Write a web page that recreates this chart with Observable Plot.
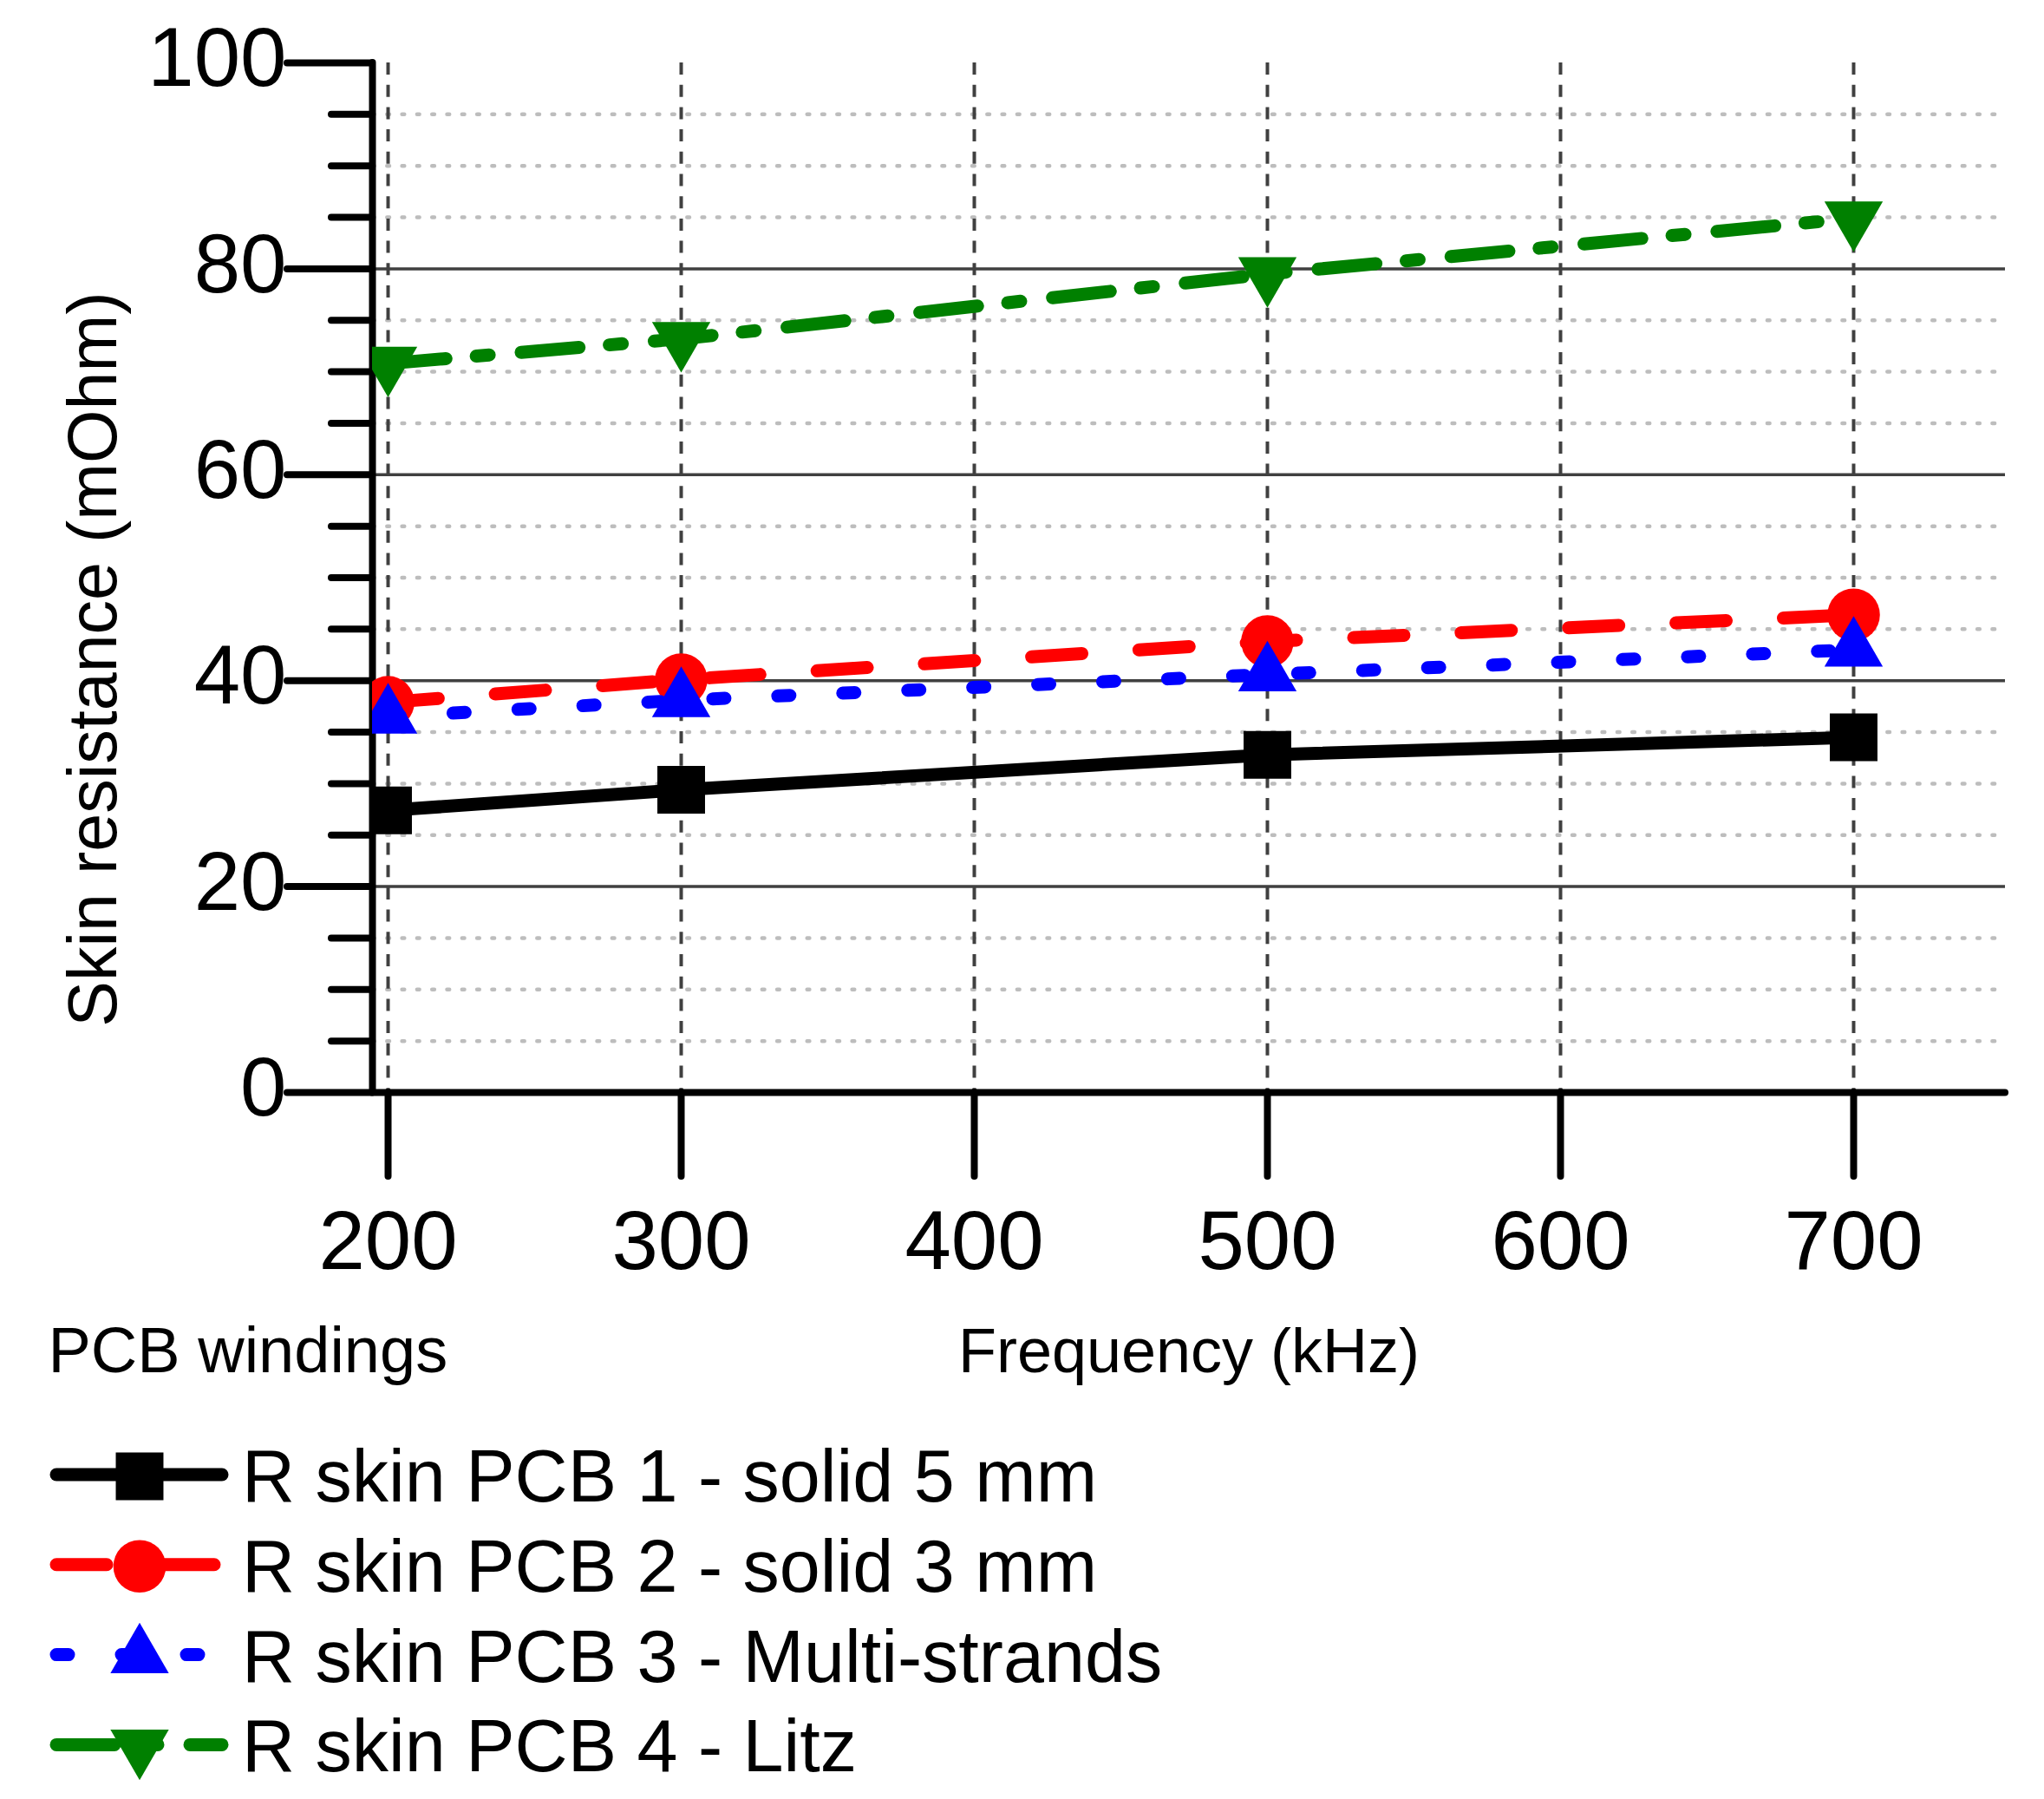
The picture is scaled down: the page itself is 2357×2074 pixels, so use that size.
<!DOCTYPE html>
<html>
<head>
<meta charset="utf-8">
<script src="https://cdn.jsdelivr.net/npm/d3@7"></script>
<script src="https://cdn.jsdelivr.net/npm/@observablehq/plot@0.6"></script>
<style>
html, body { margin: 0; padding: 0; background: #ffffff; }
#chart { width: 2357px; }
#chart svg { display: block; }
</style>
</head>
<body>
<div id="chart"></div>
<script>
// ---- data ----
const frequency = [200, 300, 500, 700];               // kHz
const pcb1 = [27.4, 29.4, 32.8, 34.5];                // R skin PCB 1 - solid 5 mm
const pcb2 = [37.9, 40.1, 43.8, 46.4];                // R skin PCB 2 - solid 3 mm
const pcb3 = [36.5, 38.1, 40.6, 43.0];                // R skin PCB 3 - Multi-strands
const pcb4 = [70.8, 73.2, 79.5, 84.9];                // R skin PCB 4 - Litz
const seriesNames = [
  "R skin PCB 1 - solid 5 mm",
  "R skin PCB 2 - solid 3 mm",
  "R skin PCB 3 - Multi-strands",
  "R skin PCB 4 - Litz"
];
const xTicks = [200, 300, 400, 500, 600, 700];
const yMajor = [0, 20, 40, 60, 80, 100];
const yMinor = [5, 10, 15, 25, 30, 35, 45, 50, 55, 65, 70, 75, 85, 90, 95];
const xLabel = "Frequency (kHz)";
const yLabel = "Skin resistance (mOhm)";
const legendTitle = "PCB windings";

// ---- styles ----
const FONT = "'Liberation Sans', Arial, Helvetica, sans-serif";
const triangleDown = {
  draw(ctx, size) {
    const y = Math.sqrt(size / (3 * Math.sqrt(3)));
    const s = Math.sqrt(3);
    ctx.moveTo(0, 2 * y);
    ctx.lineTo(-s * y, -y);
    ctx.lineTo(s * y, -y);
    ctx.closePath();
  }
};
const styles = [
  {color: "#000000", dash: null,          symbol: d3.symbolSquare,   r: 31},
  {color: "#ff0000", dash: "58,66",       symbol: d3.symbolCircle,   r: 30.3},
  {color: "#0000ff", dash: "14,61",       symbol: d3.symbolTriangle, r: 25},
  {color: "#008000", dash: "67,35,15,37", symbol: triangleDown,      r: 25}
];
const LW = 15;

const values = [pcb1, pcb2, pcb3, pcb4];
const table = values.flatMap((vals, s) =>
  frequency.map((f, i) => ({frequency: f, resistance: vals[i], series: seriesNames[s]})));

const xDomain = [194.67, 751.78];
const W = 2357, H = 1610;

const seriesMarks = seriesNames.flatMap((name, s) => {
  const st = styles[s];
  const rows = table.filter(d => d.series === name);
  return [
    Plot.line(rows, {
      x: "frequency", y: "resistance", stroke: st.color, strokeWidth: LW,
      strokeDasharray: st.dash, strokeLinecap: "round", strokeLinejoin: "round", clip: true
    }),
    Plot.dot(rows, {
      x: "frequency", y: "resistance", symbol: st.symbol, r: st.r,
      fill: st.color, stroke: "none", clip: true
    })
  ];
});

const plot = Plot.plot({
  width: W, height: H,
  marginLeft: 429, marginRight: 45, marginTop: 72, marginBottom: 351,
  x: {domain: xDomain, label: null},
  y: {domain: [0, 100], label: null},
  style: {fontFamily: FONT, color: "black", background: "white", overflow: "visible"},
  marks: [
    // minor dotted grid
    Plot.ruleY(yMinor, {stroke: "#bdbdbd", strokeWidth: 4.5, strokeDasharray: "2.7,14.6", strokeLinecap: "round"}),
    // major solid grid
    Plot.ruleY(yMajor.filter(v => v > 0 && v < 100), {stroke: "#404040", strokeWidth: 3.5}),
    // vertical dashed grid
    Plot.ruleX(xTicks, {stroke: "#404040", strokeWidth: 4, strokeDasharray: "14,11.7"}),
    // y ticks
    Plot.axisY({ticks: yMinor, tickSize: 47, strokeWidth: 8, strokeLinecap: "round", fill: "none", label: null}),
    Plot.axisY({ticks: yMajor, tickSize: 98, strokeWidth: 8, strokeLinecap: "round", fill: "none", label: null}),
    Plot.axisY({ticks: yMajor, tickSize: 0, tickPadding: 99, fontSize: 96, dy: -4, label: null}),
    // x ticks + labels
    Plot.axisX({ticks: xTicks, tickSize: 97, tickPadding: 38, strokeWidth: 8, strokeLinecap: "round", fontSize: 96, label: null}),
    // axis lines
    Plot.ruleX([xDomain[0]], {stroke: "black", strokeWidth: 8, strokeLinecap: "round"}),
    Plot.ruleY([0], {stroke: "black", strokeWidth: 8, strokeLinecap: "round"}),
    // data
    ...seriesMarks,
    // titles
    Plot.text([yLabel], {frameAnchor: "left", rotate: -90, textAnchor: "middle", lineAnchor: "bottom",
      fontSize: 79, dx: -296, dy: 94, fill: "black"}),
    Plot.text([xLabel], {frameAnchor: "bottom", textAnchor: "middle", lineAnchor: "bottom",
      fontSize: 72, dy: 322, fill: "black"}),
    Plot.text([legendTitle], {frameAnchor: "bottom-left", textAnchor: "start", lineAnchor: "bottom",
      fontSize: 74, dx: -374, dy: 322, fill: "black"})
  ]
});
document.getElementById("chart").appendChild(plot);

// ---- legend below the chart ----
const legend = d3.create("svg")
  .attr("width", W).attr("height", 2074 - H)
  .attr("viewBox", `0 0 ${W} ${2074 - H}`)
  .style("display", "block")
  .style("font-family", FONT);
seriesNames.forEach((name, i) => {
  const st = styles[i];
  const ly = 90 + i * 103.8;
  legend.append("line")
    .attr("x1", 65).attr("x2", 256).attr("y1", ly).attr("y2", ly)
    .attr("stroke", st.color).attr("stroke-width", LW)
    .attr("stroke-linecap", "round")
    .attr("stroke-dasharray", st.dash);
  legend.append("path")
    .attr("transform", `translate(161,${ly + 2})`)
    .attr("d", d3.symbol(st.symbol, Math.PI * st.r * st.r)())
    .attr("fill", st.color);
  legend.append("text")
    .attr("x", 279).attr("y", ly + 31)
    .attr("font-size", 84.5).attr("fill", "black")
    .text(name);
});
document.getElementById("chart").appendChild(legend.node());
</script>
</body>
</html>
